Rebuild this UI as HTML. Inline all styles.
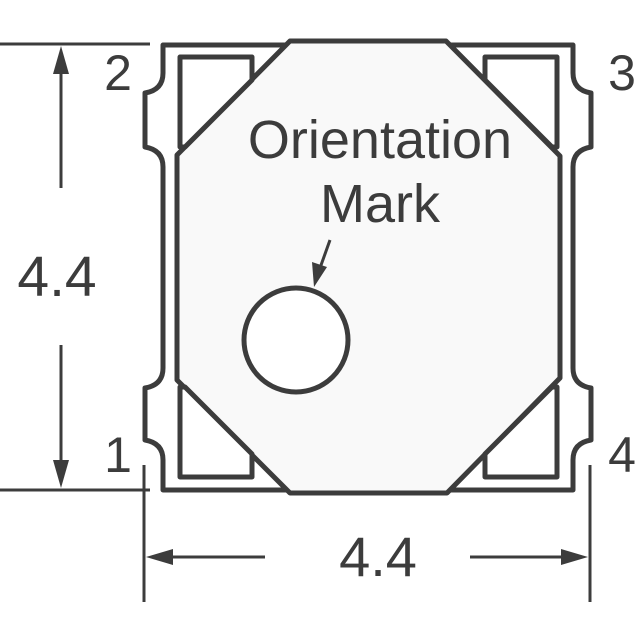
<!DOCTYPE html>
<html><head><style>html,body{margin:0;padding:0;background:#fff}svg{display:block}</style></head>
<body>
<svg width="640" height="640" viewBox="0 0 640 640" xmlns="http://www.w3.org/2000/svg" font-family="Liberation Sans, sans-serif" fill="#3c3c3c">
<g stroke="#3c3c3c" fill="none" stroke-width="5" stroke-linejoin="round">
<path d="M163,45 H573 V73 Q573,90 591,93 V147 Q573,150 573,167 V368 Q573,385 591,388 V440 Q573,443 573,460 V490 H163 V460 Q163,443 145,440 V388 Q163,385 163,368 V167 Q163,150 145,147 V93 Q163,90 163,73 Z" fill="#fff"/>
<polygon points="290,41 446,41 560,156 560,378 447,493 290,493 177,380 177,155" fill="#f9f9f9"/>
<polygon points="180,57 252,57 252,80 185,147 180,147" fill="#fff"/>
<polygon points="557,57 485,57 485,80 552,147 557,147" fill="#fff"/>
<polygon points="180,477 252,477 252,454 185,387 180,387" fill="#fff"/>
<polygon points="557,477 485,477 485,454 552,387 557,387" fill="#fff"/>
<circle cx="296" cy="340" r="52" fill="#fff"/>
</g>
<g stroke="#3c3c3c" stroke-width="3">
<line x1="330" y1="240" x2="320" y2="268"/>
<line x1="0" y1="44" x2="150" y2="44"/>
<line x1="0" y1="490" x2="150" y2="490"/>
<line x1="61" y1="60" x2="61" y2="188"/>
<line x1="61" y1="345" x2="61" y2="475"/>
<line x1="144" y1="465" x2="144" y2="602"/>
<line x1="590" y1="465" x2="590" y2="602"/>
<line x1="160" y1="557" x2="265" y2="557"/>
<line x1="470" y1="557" x2="575" y2="557"/>
</g>
<polygon points="314,287 312,262 327,267"/>
<polygon points="61,46 53,74 69,74"/>
<polygon points="61,488 53,460 69,460"/>
<polygon points="146,557 173,549 173,565"/>
<polygon points="588,557 561,549 561,565"/>
<g font-size="54" text-anchor="middle">
<text x="380" y="158">Orientation</text>
<text x="380" y="222">Mark</text>
<text x="57" y="296" font-size="57">4.4</text>
<text x="378" y="576" font-size="56">4.4</text>
</g>
<g font-size="50" text-anchor="middle">
<text x="118" y="90">2</text>
<text x="622" y="90">3</text>
<text x="118" y="472">1</text>
<text x="622" y="472">4</text>
</g>
</svg>
</body></html>
